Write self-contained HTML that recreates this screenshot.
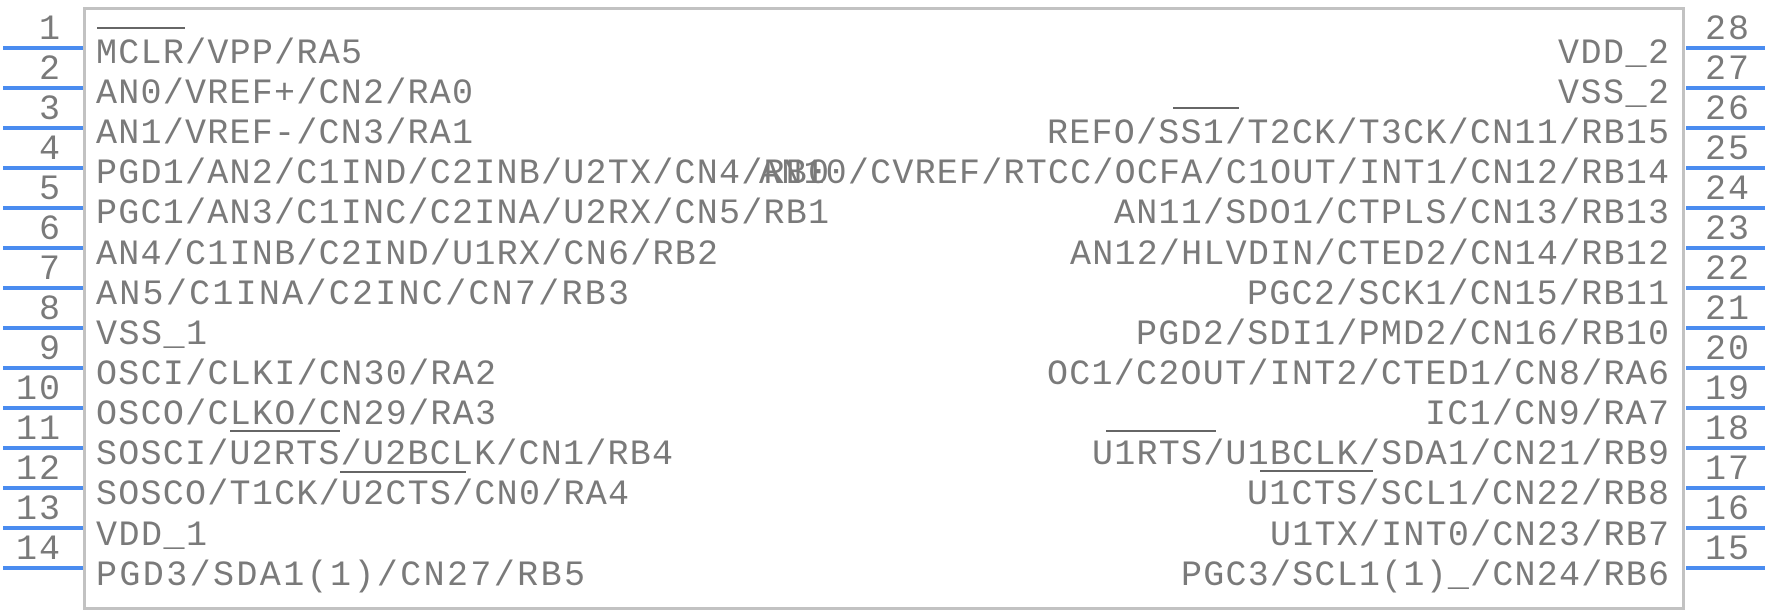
<!DOCTYPE html>
<html><head><meta charset="utf-8"><style>
html,body{margin:0;padding:0;background:#fff;}
svg{display:block;}
text{font-family:"Liberation Mono","Courier New",monospace;font-size:35px;fill:#7a7a7a;}
</style></head><body>
<svg width="1768" height="612" viewBox="0 0 1768 612" xmlns="http://www.w3.org/2000/svg">
<rect x="84.5" y="8.5" width="1599" height="600" fill="none" stroke="#c2c2c2" stroke-width="3"/>
<g stroke="#4a8cf0" stroke-width="4">
<line x1="3" y1="48" x2="83" y2="48"/><line x1="3" y1="88" x2="83" y2="88"/><line x1="3" y1="128" x2="83" y2="128"/><line x1="3" y1="168" x2="83" y2="168"/><line x1="3" y1="208" x2="83" y2="208"/><line x1="3" y1="248" x2="83" y2="248"/><line x1="3" y1="288" x2="83" y2="288"/><line x1="3" y1="328" x2="83" y2="328"/><line x1="3" y1="368" x2="83" y2="368"/><line x1="3" y1="408" x2="83" y2="408"/><line x1="3" y1="448" x2="83" y2="448"/><line x1="3" y1="488" x2="83" y2="488"/><line x1="3" y1="528" x2="83" y2="528"/><line x1="3" y1="568" x2="83" y2="568"/>
<line x1="1686" y1="48" x2="1765" y2="48"/><line x1="1686" y1="88" x2="1765" y2="88"/><line x1="1686" y1="128" x2="1765" y2="128"/><line x1="1686" y1="168" x2="1765" y2="168"/><line x1="1686" y1="208" x2="1765" y2="208"/><line x1="1686" y1="248" x2="1765" y2="248"/><line x1="1686" y1="288" x2="1765" y2="288"/><line x1="1686" y1="328" x2="1765" y2="328"/><line x1="1686" y1="368" x2="1765" y2="368"/><line x1="1686" y1="408" x2="1765" y2="408"/><line x1="1686" y1="448" x2="1765" y2="448"/><line x1="1686" y1="488" x2="1765" y2="488"/><line x1="1686" y1="528" x2="1765" y2="528"/><line x1="1686" y1="568" x2="1765" y2="568"/>
</g>
<g text-anchor="end">
<text x="60" y="39">1</text><text x="60" y="79">2</text><text x="60" y="119">3</text><text x="60" y="159">4</text><text x="60" y="199">5</text><text x="60" y="239">6</text><text x="60" y="279">7</text><text x="60" y="319">8</text><text x="60" y="359">9</text>
<text x="60" y="399" textLength="44" lengthAdjust="spacing">10</text><text x="60" y="439" textLength="44" lengthAdjust="spacing">11</text><text x="60" y="479" textLength="44" lengthAdjust="spacing">12</text><text x="60" y="519" textLength="44" lengthAdjust="spacing">13</text><text x="60" y="559" textLength="44" lengthAdjust="spacing">14</text>
</g>
<g>
<text x="1705" y="39" textLength="44" lengthAdjust="spacing">28</text><text x="1705" y="79" textLength="44" lengthAdjust="spacing">27</text><text x="1705" y="119" textLength="44" lengthAdjust="spacing">26</text><text x="1705" y="159" textLength="44" lengthAdjust="spacing">25</text><text x="1705" y="199" textLength="44" lengthAdjust="spacing">24</text><text x="1705" y="239" textLength="44" lengthAdjust="spacing">23</text><text x="1705" y="279" textLength="44" lengthAdjust="spacing">22</text><text x="1705" y="319" textLength="44" lengthAdjust="spacing">21</text><text x="1705" y="359" textLength="44" lengthAdjust="spacing">20</text><text x="1705" y="399" textLength="44" lengthAdjust="spacing">19</text><text x="1705" y="439" textLength="44" lengthAdjust="spacing">18</text><text x="1705" y="479" textLength="44" lengthAdjust="spacing">17</text><text x="1705" y="519" textLength="44" lengthAdjust="spacing">16</text><text x="1705" y="559" textLength="44" lengthAdjust="spacing">15</text>
</g>
<g>
<text x="96" y="63" textLength="266" lengthAdjust="spacing">MCLR/VPP/RA5</text>
<text x="96" y="103" textLength="377" lengthAdjust="spacing">AN0/VREF+/CN2/RA0</text>
<text x="96" y="143" textLength="377" lengthAdjust="spacing">AN1/VREF-/CN3/RA1</text>
<text x="96" y="183" textLength="733" lengthAdjust="spacing">PGD1/AN2/C1IND/C2INB/U2TX/CN4/RB0</text>
<text x="96" y="223" textLength="733" lengthAdjust="spacing">PGC1/AN3/C1INC/C2INA/U2RX/CN5/RB1</text>
<text x="96" y="264" textLength="622" lengthAdjust="spacing">AN4/C1INB/C2IND/U1RX/CN6/RB2</text>
<text x="96" y="304" textLength="533" lengthAdjust="spacing">AN5/C1INA/C2INC/CN7/RB3</text>
<text x="96" y="344" textLength="111" lengthAdjust="spacing">VSS_1</text>
<text x="96" y="384" textLength="400" lengthAdjust="spacing">OSCI/CLKI/CN30/RA2</text>
<text x="96" y="424" textLength="400" lengthAdjust="spacing">OSCO/CLKO/CN29/RA3</text>
<text x="96" y="464" textLength="577" lengthAdjust="spacing">SOSCI/U2RTS/U2BCLK/CN1/RB4</text>
<text x="96" y="504" textLength="533" lengthAdjust="spacing">SOSCO/T1CK/U2CTS/CN0/RA4</text>
<text x="96" y="545" textLength="111" lengthAdjust="spacing">VDD_1</text>
<text x="96" y="585" textLength="489" lengthAdjust="spacing">PGD3/SDA1(1)/CN27/RB5</text>
</g>
<g>
<text x="1558" y="63" textLength="111" lengthAdjust="spacing">VDD_2</text>
<text x="1558" y="103" textLength="111" lengthAdjust="spacing">VSS_2</text>
<text x="1047" y="143" textLength="622" lengthAdjust="spacing">REFO/SS1/T2CK/T3CK/CN11/RB15</text>
<text x="759" y="183" textLength="910" lengthAdjust="spacing">AN10/CVREF/RTCC/OCFA/C1OUT/INT1/CN12/RB14</text>
<text x="1114" y="223" textLength="555" lengthAdjust="spacing">AN11/SDO1/CTPLS/CN13/RB13</text>
<text x="1070" y="264" textLength="599" lengthAdjust="spacing">AN12/HLVDIN/CTED2/CN14/RB12</text>
<text x="1247" y="304" textLength="422" lengthAdjust="spacing">PGC2/SCK1/CN15/RB11</text>
<text x="1136" y="344" textLength="533" lengthAdjust="spacing">PGD2/SDI1/PMD2/CN16/RB10</text>
<text x="1047" y="384" textLength="622" lengthAdjust="spacing">OC1/C2OUT/INT2/CTED1/CN8/RA6</text>
<text x="1425" y="424" textLength="244" lengthAdjust="spacing">IC1/CN9/RA7</text>
<text x="1092" y="464" textLength="577" lengthAdjust="spacing">U1RTS/U1BCLK/SDA1/CN21/RB9</text>
<text x="1247" y="504" textLength="422" lengthAdjust="spacing">U1CTS/SCL1/CN22/RB8</text>
<text x="1270" y="545" textLength="399" lengthAdjust="spacing">U1TX/INT0/CN23/RB7</text>
<text x="1181" y="585" textLength="488" lengthAdjust="spacing">PGC3/SCL1(1)_/CN24/RB6</text>
</g>
<g stroke="#666" stroke-width="2">
<line x1="97" y1="28" x2="185" y2="28"/>
<line x1="230" y1="431" x2="340" y2="431"/>
<line x1="340" y1="472" x2="466" y2="472"/>
<line x1="1173" y1="108" x2="1239" y2="108"/>
<line x1="1106" y1="431" x2="1216" y2="431"/>
<line x1="1260" y1="471" x2="1373" y2="471"/>
</g>
</svg>
</body></html>
